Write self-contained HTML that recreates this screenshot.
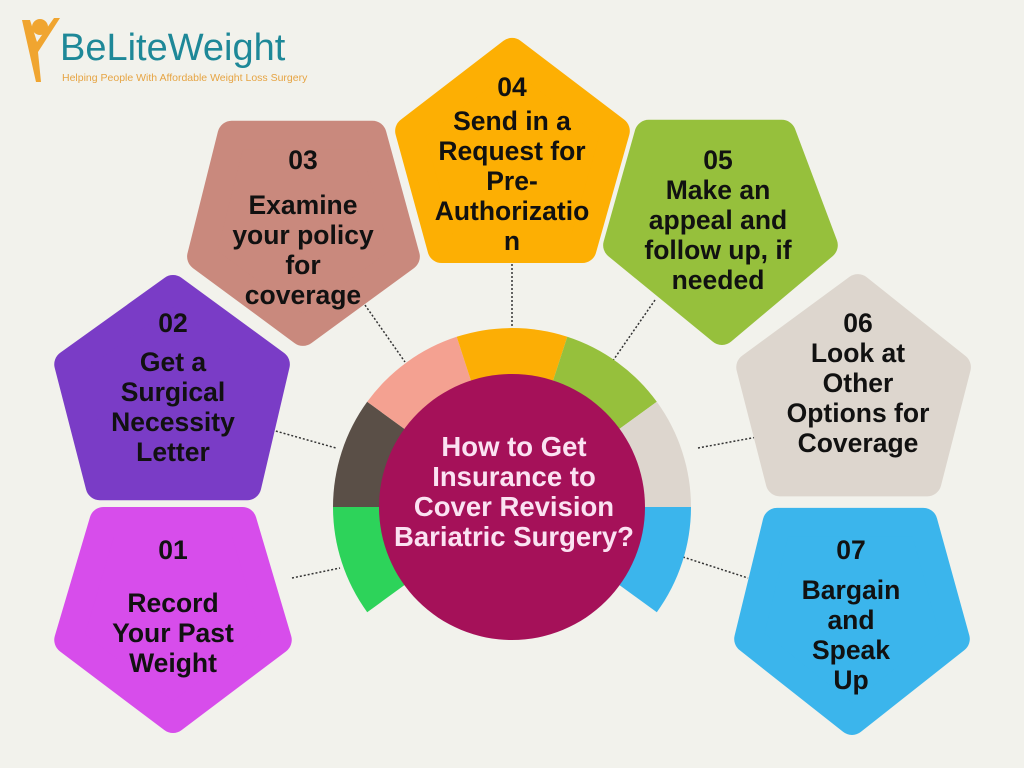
<!DOCTYPE html>
<html><head><meta charset="utf-8"><style>
html,body{margin:0;padding:0;background:#f2f2ec;}
svg{display:block}
text{font-family:"Liberation Sans",sans-serif;font-weight:bold;}
</style></head><body>
<svg width="1024" height="768" viewBox="0 0 1024 768" xmlns="http://www.w3.org/2000/svg">
<rect width="1024" height="768" fill="#f2f2ec"/>
<!-- logo -->
<circle cx="40" cy="27" r="8" fill="#f0a530"/>
<path d="M22 20 L36 82 L41 82 L38 52 L60 18 L54 18 L37 42 L30 20 Z" fill="#f0a530"/>
<text x="60" y="60" font-size="38" fill="#1e8898" style="font-weight:normal">BeLiteWeight</text>
<text x="62" y="81" font-size="10.5" fill="#e6a443" style="font-weight:normal">Helping People With Affordable Weight Loss Surgery</text>

<!-- connectors -->
<g stroke="#333" stroke-width="1.5" stroke-dasharray="2,2" fill="none">
<line x1="292" y1="578" x2="340" y2="568"/>
<line x1="272" y1="430" x2="336" y2="448"/>
<line x1="365" y1="305" x2="405" y2="362"/>
<line x1="512" y1="264" x2="512" y2="328"/>
<line x1="655" y1="300" x2="612" y2="362"/>
<line x1="698" y1="448" x2="757" y2="437"/>
<line x1="683" y1="557" x2="748" y2="578"/>
</g>

<!-- ring segments -->
<g>
<path d="M512 507 L367.2 612.2 A179 179 0 0 1 333 507 Z" fill="#2dd35a"/>
<path d="M512 507 L333 507 A179 179 0 0 1 367.2 401.8 Z" fill="#5a4f47"/>
<path d="M512 507 L367.2 401.8 A179 179 0 0 1 456.7 336.8 Z" fill="#f4a191"/>
<path d="M512 507 L456.7 336.8 A179 179 0 0 1 567.3 336.8 Z" fill="#fcae05"/>
<path d="M512 507 L567.3 336.8 A179 179 0 0 1 656.8 401.8 Z" fill="#96c03c"/>
<path d="M512 507 L656.8 401.8 A179 179 0 0 1 691 507 Z" fill="#ddd6ce"/>
<path d="M512 507 L691 507 A179 179 0 0 1 656.8 612.2 Z" fill="#3bb5ec"/>
</g>
<circle cx="512" cy="507" r="133" fill="#a51159"/>

<!-- pentagons -->
<g stroke-linejoin="round" stroke-width="30">
<g transform="translate(173,620) scale(0.95) translate(-173,-620)"><polygon points="100,516 246,516 283,641 173,724 63,641" fill="#d74deb" stroke="#d74deb"/></g>
<g transform="translate(173,390) scale(0.95) translate(-173,-390)"><polygon points="173,284 281,363 251,491 96,491 63,363" fill="#7a3cc6" stroke="#7a3cc6"/></g>
<g transform="translate(303,230) scale(0.95) translate(-303,-230)"><polygon points="228,130 376,130 411,258 303,337 196,258" fill="#c9897d" stroke="#c9897d"/></g>
<g transform="translate(512,150) scale(0.95) translate(-512,-150)"><polygon points="512,47 621,130 586,254 438,254 404,130" fill="#fdaf03" stroke="#fdaf03"/></g>
<g transform="translate(720,230) scale(0.95) translate(-720,-230)"><polygon points="645,129 785,129 829,246 722,336 612,246" fill="#96c03c" stroke="#96c03c"/></g>
<g transform="translate(855,390) scale(0.95) translate(-855,-390)"><polygon points="858,283 962,366 931,487 776,487 745,366" fill="#ddd6ce" stroke="#ddd6ce"/></g>
<g transform="translate(852,620) scale(0.95) translate(-852,-620)"><polygon points="773,517 927,517 961,640 852,726 743,640" fill="#3bb5ec" stroke="#3bb5ec"/></g>
</g>

<g font-size="26.5" fill="#111" text-anchor="middle">
<text x="173" y="559">01</text>
<text x="173" y="612">Record</text>
<text x="173" y="642">Your Past</text>
<text x="173" y="672">Weight</text>

<text x="173" y="332">02</text>
<text x="173" y="371">Get a</text>
<text x="173" y="401">Surgical</text>
<text x="173" y="431">Necessity</text>
<text x="173" y="461">Letter</text>

<text x="303" y="169">03</text>
<text x="303" y="214">Examine</text>
<text x="303" y="244">your policy</text>
<text x="303" y="274">for</text>
<text x="303" y="304">coverage</text>

<text x="512" y="96">04</text>
<text x="512" y="130">Send in a</text>
<text x="512" y="160">Request for</text>
<text x="512" y="190">Pre-</text>
<text x="512" y="220">Authorizatio</text>
<text x="512" y="250">n</text>

<text x="718" y="169">05</text>
<text x="718" y="199">Make an</text>
<text x="718" y="229">appeal and</text>
<text x="718" y="259">follow up, if</text>
<text x="718" y="289">needed</text>

<text x="858" y="332">06</text>
<text x="858" y="362">Look at</text>
<text x="858" y="392">Other</text>
<text x="858" y="422">Options for</text>
<text x="858" y="452">Coverage</text>

<text x="851" y="559">07</text>
<text x="851" y="599">Bargain</text>
<text x="851" y="629">and</text>
<text x="851" y="659">Speak</text>
<text x="851" y="689">Up</text>
</g>

<g font-size="27.5" fill="#fbe2f2" text-anchor="middle">
<text x="514" y="456">How to Get</text>
<text x="514" y="486">Insurance to</text>
<text x="514" y="516">Cover Revision</text>
<text x="514" y="546">Bariatric Surgery?</text>
</g>
</svg>
</body></html>
